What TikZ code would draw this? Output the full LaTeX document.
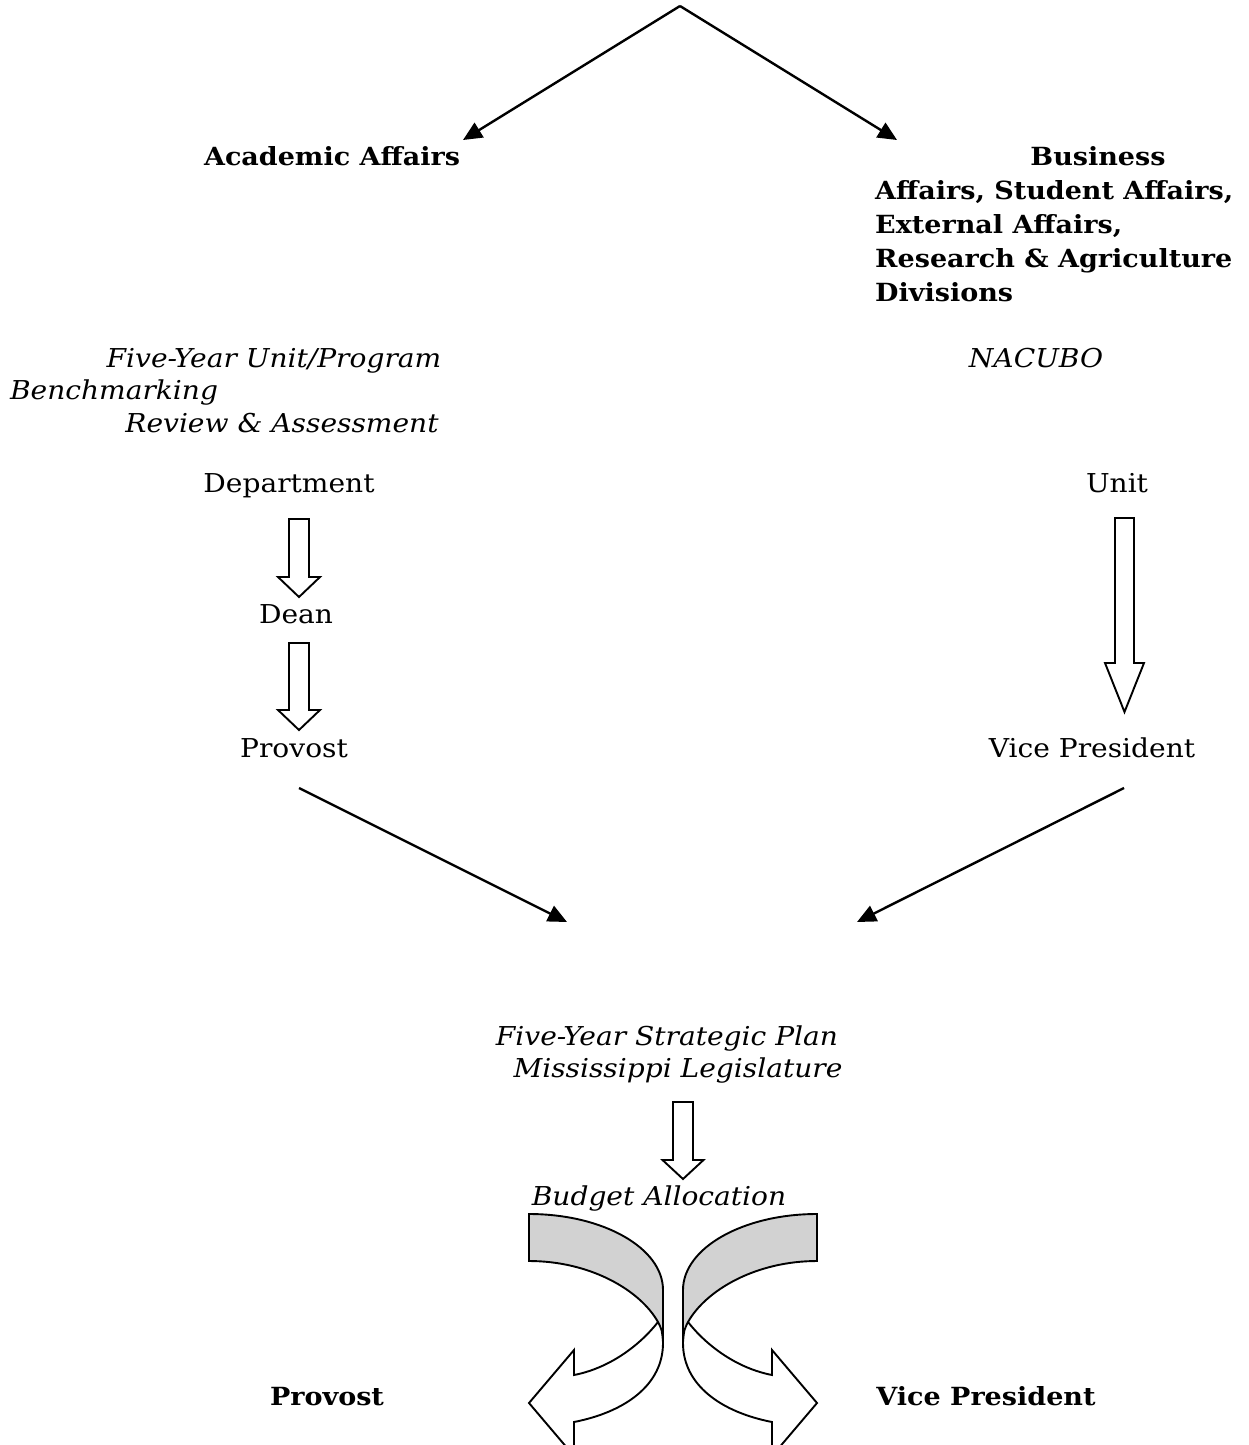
\documentclass[tikz,border=0pt]{standalone}
\usepackage{fontspec}
\setmainfont{DejaVu Serif}[FakeStretch=1.08]
\usetikzlibrary{arrows.meta}
\newcommand{\myblockarrow}[6]{%
  \draw[blk] ({#1-#5},#2) -- ({#1+#5},#2) -- ({#1+#5},#3) -- ({#1+#6},#3) -- (#1,#4) -- ({#1-#6},#3) -- ({#1-#5},#3) -- cycle;}
\begin{document}
\begin{tikzpicture}[x=1pt,y=-1pt,
  rt/.style={inner sep=0pt, font=\fontsize{26}{34}\selectfont},
  it/.style={inner sep=0pt, font=\fontsize{26}{34}\selectfont\itshape},
  bt/.style={inner sep=0pt, font=\fontsize{25}{34}\selectfont\bfseries},
  diag/.style={line width=2.4pt, -{Triangle[length=19pt,width=17pt]}},
  blk/.style={line width=1.9pt, fill=white, line join=miter},
  rib/.style={line width=1.9pt, line join=miter}]
\useasboundingbox (0,0) rectangle (1248,1445);
\clip (0,0) rectangle (1248,1445);

% top
\coordinate (apex) at (680,6);
\coordinate (aL) at (463,140);
\coordinate (aR) at (897,140);
\draw[diag] (apex) -- (aL);
\draw[diag] (apex) -- (aR);

\node[bt, anchor=base] (acad) at (332,165) {Academic Affairs};
\node[bt, anchor=base] (bus1) at (1098,165) {Business};
\node[bt, anchor=base west] (bus2) at (875,199) {Affairs, Student Affairs,};
\node[bt, anchor=base west] (bus3) at (875,233) {External Affairs,};
\node[bt, anchor=base west] (bus4) at (875,267) {Research \& Agriculture};
\node[bt, anchor=base west] (bus5) at (875,301) {Divisions};

\node[it, anchor=base] (fy) at (274,367) {Five-Year Unit/Program};
\node[it, anchor=base] (bench) at (114,399) {Benchmarking};
\node[it, anchor=base] (rev) at (282,432) {Review \& Assessment};
\node[it, anchor=base] (nac) at (1036,367) {NACUBO};

\node[rt, anchor=base] (dept) at (289,492) {Department};
\node[rt, anchor=base] (unit) at (1117,492) {Unit};
\node[rt, anchor=base] (dean) at (296,623) {Dean};
\node[rt, anchor=base] (prov) at (294,757) {Provost};
\node[rt, anchor=base] (vp) at (1092,757) {Vice President};

\myblockarrow{299}{519}{577}{597}{10}{21}
\myblockarrow{299}{643}{710}{730}{10}{21}
\myblockarrow{1124.5}{518}{663}{712}{9.5}{19.5}

\coordinate (pS) at (299,788);
\coordinate (pE) at (567,922);
\coordinate (vS) at (1124,788);
\coordinate (vE) at (857,922);
\draw[diag] (pS) -- (pE);
\draw[diag] (vS) -- (vE);

\node[it, anchor=base] (fysp) at (667,1045) {Five-Year Strategic Plan};
\node[it, anchor=base] (ml) at (678,1077) {Mississippi Legislature};
\myblockarrow{683}{1102}{1160}{1179}{10}{20.5}
\node[it, anchor=base] (ba) at (659,1205) {Budget Allocation};

% curved ribbons
\foreach \s/\sh in {1/0,-1/1346}{
\begin{scope}[shift={(\sh,0)}, xscale=\s]
\fill[gray!35] (529,1214) .. controls (603,1214) and (663,1248) .. (663,1290) -- (663,1328) -- (658,1322) .. controls (640,1290) and (590,1261) .. (529,1261) -- cycle;
\draw[rib] (663,1343) -- (663,1290) .. controls (663,1248) and (603,1214) .. (529,1214) -- (529,1261) .. controls (590,1261) and (640,1290) .. (658,1322) .. controls (662,1330) .. (663,1342);
\draw[rib] (658,1322) .. controls (640,1345) and (610,1368) .. (574,1375) -- (574,1350) -- (529,1403) -- (574,1456) -- (574,1422) .. controls (625,1412) and (663,1385) .. (663,1343);
\end{scope}}

\node[bt, anchor=base] (prov2) at (327,1405) {Provost};
\node[bt, anchor=base] (vp2) at (986,1405) {Vice President};
\end{tikzpicture}
\end{document}
